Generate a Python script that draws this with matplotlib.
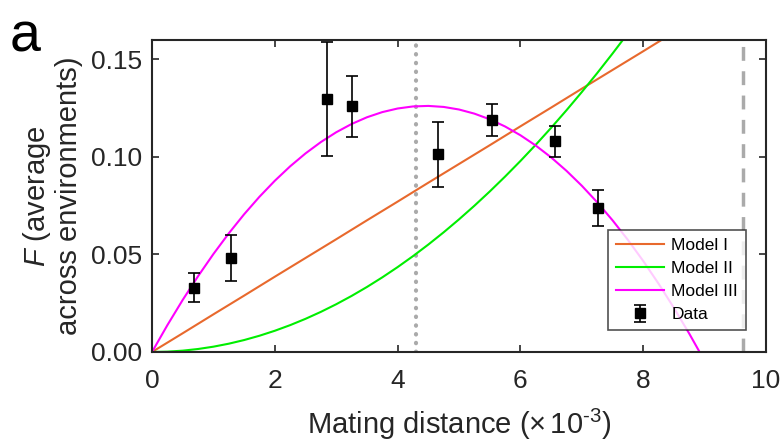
import matplotlib
matplotlib.use("Agg")
import matplotlib.pyplot as plt

plt.rcParams['font.family'] = ['Liberation Sans', 'DejaVu Sans']
plt.rcParams['mathtext.fontset'] = 'custom'
plt.rcParams['mathtext.it'] = 'Liberation Sans:italic'
plt.rcParams['mathtext.rm'] = 'Liberation Sans'

# Data points
data_x = [0.68, 1.29, 2.85, 3.26, 4.65, 5.53, 6.57, 7.26]
data_y = [0.0330, 0.0482, 0.1296, 0.1259, 0.1013, 0.1190, 0.1081, 0.0738]
data_err = [0.0075, 0.0117, 0.0292, 0.0155, 0.0166, 0.0080, 0.0079, 0.0094]

# Model curves
model1_x = [0, 0.5, 1, 1.5, 2, 2.5, 3, 3.5, 4, 4.5, 5, 5.5, 6, 6.5, 7, 7.5, 8, 8.5]
model1_y = [0, 0.0096, 0.0193, 0.0289, 0.0386, 0.0482, 0.0578, 0.0675, 0.0771,
            0.0868, 0.0964, 0.1060, 0.1157, 0.1253, 0.1350, 0.1446, 0.1542, 0.1639]
model2_x = [0, 0.25, 0.5, 0.75, 1, 1.25, 1.5, 1.75, 2, 2.25, 2.5, 2.75, 3, 3.25, 3.5,
            3.75, 4, 4.25, 4.5, 4.75, 5, 5.25, 5.5, 5.75, 6, 6.25, 6.5, 6.75, 7,
            7.25, 7.5, 7.75]
model2_y = [0, 0.00017, 0.00068, 0.00153, 0.00272, 0.00425, 0.00612, 0.00833, 0.01088,
            0.01377, 0.0170, 0.02057, 0.02448, 0.02873, 0.03332, 0.03825, 0.04352,
            0.04913, 0.05508, 0.06137, 0.0680, 0.07497, 0.08228, 0.08993, 0.09792,
            0.10625, 0.11492, 0.12393, 0.13328, 0.14297, 0.1530, 0.16337]
model3_x = [0, 0.25, 0.5, 0.75, 1, 1.25, 1.5, 1.75, 2, 2.25, 2.5, 2.75, 3, 3.25, 3.5,
            3.75, 4, 4.25, 4.5, 4.75, 5, 5.25, 5.5, 5.75, 6, 6.25, 6.5, 6.75, 7,
            7.25, 7.5, 7.75, 8, 8.25, 8.5, 8.75, 9]
model3_y = [0, 0.01375, 0.02671, 0.03887, 0.05024, 0.06082, 0.07061, 0.07960, 0.08780,
            0.09521, 0.10182, 0.10764, 0.11267, 0.11690, 0.12035, 0.12300, 0.12485,
            0.12591, 0.12618, 0.12566, 0.12434, 0.12223, 0.11933, 0.11564, 0.11115,
            0.10587, 0.09979, 0.09292, 0.08526, 0.07681, 0.06756, 0.05752, 0.04669,
            0.03507, 0.02265, 0.00944, -0.00457]

vline_dotted = 4.30
vline_dashed = 9.63

xticks = [0, 2, 4, 6, 8, 10]
yticks = [0.00, 0.05, 0.10, 0.15]
ytick_labels = ['0.00', '0.05', '0.10', '0.15']

fig = plt.figure(figsize=(7.82, 4.46), dpi=100)
ax = fig.add_axes([0.1944, 0.2108, 0.7851, 0.6996])

ax.axvline(vline_dotted, color='#aaaaaa', lw=3, linestyle=(0, (0.1, 2.0)),
           dash_capstyle='round', zorder=1)
ax.axvline(vline_dashed, color='#aaaaaa', lw=2.5, linestyle=(0, (4, 3)), zorder=1)

ax.plot(model1_x, model1_y, color='#E8692D', lw=1.5, label='Model I', zorder=2)
ax.plot(model2_x, model2_y, color='#00EE00', lw=1.5, label='Model II', zorder=2)
ax.plot(model3_x, model3_y, color='#FF00FF', lw=1.5, label='Model III', zorder=2)
ax.errorbar(data_x, data_y, yerr=data_err, fmt='s', color='black', ms=7,
            capsize=4.5, elinewidth=1.2, capthick=1.2, label='Data', zorder=3)

ax.set_xlim(0, 10)
ax.set_ylim(0, 0.16)
ax.set_xticks(xticks)
ax.set_yticks(yticks)
ax.set_yticklabels(ytick_labels)
ax.tick_params(direction='in', top=True, right=True, labelsize=19, colors='#262626',
               length=5, width=1.2)
ax.tick_params(axis='x', pad=12.5)
ax.tick_params(axis='y', pad=7)
for s in ax.spines.values():
    s.set_color('#262626')
    s.set_linewidth(1.5)

ax.set_xlabel(r'Mating distance ($\times\,$10$^{\text{-3}}$)', fontsize=21,
              color='#262626', labelpad=10)
ax.set_ylabel('$F$ (average\nacross environments)', fontsize=21, color='#262626',
              labelpad=6, linespacing=1.1)

leg = ax.legend(loc='lower right', bbox_to_anchor=(0.967, 0.07), fontsize=12.5,
                frameon=True, fancybox=False, edgecolor='#262626', handlelength=2.8,
                borderpad=0.45, labelspacing=0.45, handletextpad=0.4,
                borderaxespad=0.0)
leg.get_frame().set_linewidth(1.2)

fig.text(0.012, 0.975, 'a', fontsize=40, va='top', ha='left', color='black')

fig.savefig('out.png', dpi=100)
